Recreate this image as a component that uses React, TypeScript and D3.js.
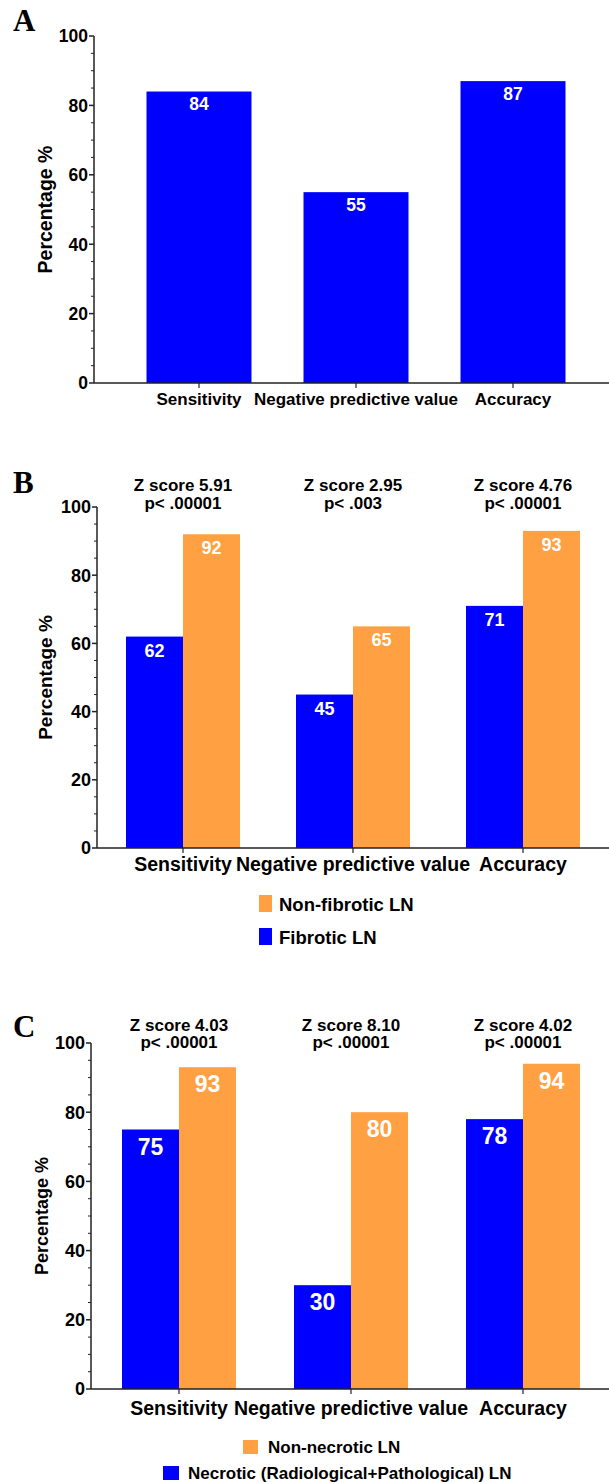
import React from 'react';
import { scaleBand, scaleLinear, range } from 'd3';

// data
const categories = ['Sensitivity', 'Negative predictive value', 'Accuracy'];
const yTicks = [0, 20, 40, 60, 80, 100];

const overallA = [84, 55, 87];

const fibroticB = [62, 45, 71];
const nonFibroticB = [92, 65, 93];
const zScoresB = ['Z score 5.91', 'Z score 2.95', 'Z score 4.76'];
const pValuesB = ['p< .00001', 'p< .003', 'p< .00001'];

const necroticC = [75, 30, 78];
const nonNecroticC = [93, 80, 94];
const zScoresC = ['Z score 4.03', 'Z score 8.10', 'Z score 4.02'];
const pValuesC = ['p< .00001', 'p< .00001', 'p< .00001'];

const BLUE = '#0000ff';
const ORANGE = '#ffa042';
const AXIS = '#222';
const SANS = '"Liberation Sans", Arial, sans-serif';
const SERIF = '"Liberation Serif", "Times New Roman", serif';

type Series = { values: number[]; color: string };

type PanelProps = {
  letter: string;
  letterY: number;
  top: number;
  bottom: number;
  axisX: number;
  bandRange: [number, number];
  barWidth: number;
  series: Series[];
  tickFont: number;
  catFont: number;
  catY: number;
  valueFont: number;
  valueDy: number;
  yLabelX: number;
  yLabelFont: number;
  notes?: { z: string[]; p: string[]; y1: number; y2: number; font: number };
};

function Panel(props: PanelProps) {
  const {
    letter, letterY, top, bottom, axisX, bandRange, barWidth, series,
    tickFont, catFont, catY, valueFont, valueDy, yLabelX, yLabelFont, notes,
  } = props;

  const y = scaleLinear().domain([0, 100]).range([bottom, top]);
  const x = scaleBand<string>().domain(categories).range(bandRange).padding(0);
  const center = (c: string) => (x(c) as number) + x.bandwidth() / 2;
  const n = series.length;
  const minor = range(0, 101, 5).filter(v => v % 20 !== 0);

  const bars = series.map((s, si) =>
    categories.map((c, i) => {
      const bx = center(c) - (n * barWidth) / 2 + si * barWidth;
      const v = s.values[i];
      return (
        <g key={`${si}-${c}`}>
          <rect x={bx} y={y(v)} width={barWidth} height={bottom - y(v)} fill={s.color} />
          <text
            x={bx + barWidth / 2}
            y={y(v) + valueDy}
            textAnchor="middle"
            fill="#fff"
            fontSize={valueFont}
            fontWeight="bold"
            fontFamily={SANS}>
            {v}
          </text>
        </g>
      );
    })
  );

  return (
    <g>
      <text x={13} y={letterY} fontFamily={SERIF} fontWeight="bold" fontSize={31}>
        {letter}
      </text>
      {bars}
      {/* y axis */}
      <line x1={axisX} x2={axisX} y1={top} y2={bottom} stroke={AXIS} strokeWidth={1.5} />
      {yTicks.map(t => (
        <g key={t}>
          <line x1={axisX - 5} x2={axisX} y1={y(t)} y2={y(t)} stroke={AXIS} strokeWidth={1.5} />
          <text
            x={axisX - 6}
            y={y(t)}
            dy="0.36em"
            textAnchor="end"
            fontSize={tickFont}
            fontWeight="bold"
            fontFamily={SANS}>
            {t}
          </text>
        </g>
      ))}
      {minor.map(t => (
        <line key={t} x1={axisX - 3} x2={axisX} y1={y(t)} y2={y(t)} stroke={AXIS} strokeWidth={1} />
      ))}
      <text
        transform={`translate(${yLabelX},${(top + bottom) / 2}) rotate(-90)`}
        textAnchor="middle"
        dy="0.36em"
        fontSize={yLabelFont}
        fontWeight="bold"
        fontFamily={SANS}>
        Percentage %
      </text>
      {/* x axis */}
      <line x1={axisX} x2={609} y1={bottom} y2={bottom} stroke={AXIS} strokeWidth={1.5} />
      {categories.map(c => (
        <g key={c}>
          <line x1={center(c)} x2={center(c)} y1={bottom} y2={bottom + 5} stroke={AXIS} strokeWidth={1.2} />
          <text
            x={center(c)}
            y={catY}
            textAnchor="middle"
            fontSize={catFont}
            fontWeight="bold"
            fontFamily={SANS}>
            {c}
          </text>
        </g>
      ))}
      {notes &&
        categories.map((c, i) => (
          <g key={`n-${c}`} fontSize={notes.font} fontWeight="bold" fontFamily={SANS} textAnchor="middle">
            <text x={center(c)} y={notes.y1}>{notes.z[i]}</text>
            <text x={center(c)} y={notes.y2}>{notes.p[i]}</text>
          </g>
        ))}
    </g>
  );
}

function Legend({ items, font }: { items: { label: string; color: string; x: number; y: number; w: number; h: number; tx: number; ty: number }[]; font: number }) {
  return (
    <g>
      {items.map(d => (
        <g key={d.label}>
          <rect x={d.x} y={d.y} width={d.w} height={d.h} fill={d.color} />
          <text x={d.tx} y={d.ty} fontSize={font} fontWeight="bold" fontFamily={SANS}>
            {d.label}
          </text>
        </g>
      ))}
    </g>
  );
}

export default function App() {
  return (
    <svg
      width={609}
      height={1482}
      style={{ position: 'absolute', left: 0, top: 0, background: '#fff' }}>
      <Panel
        letter="A"
        letterY={31}
        top={36}
        bottom={383}
        axisX={94}
        bandRange={[120.5, 591.5]}
        barWidth={105}
        series={[{ values: overallA, color: BLUE }]}
        tickFont={17.5}
        catFont={17}
        catY={405}
        valueFont={17.5}
        valueDy={18.5}
        yLabelX={45}
        yLabelFont={19.5}
      />
      <Panel
        letter="B"
        letterY={493}
        top={507}
        bottom={848}
        axisX={97}
        bandRange={[98, 608]}
        barWidth={57}
        series={[
          { values: fibroticB, color: BLUE },
          { values: nonFibroticB, color: ORANGE },
        ]}
        tickFont={18}
        catFont={19.5}
        catY={871}
        valueFont={18}
        valueDy={20}
        yLabelX={45}
        yLabelFont={19}
        notes={{ z: zScoresB, p: pValuesB, y1: 491, y2: 509, font: 17 }}
      />
      <Legend
        font={18.5}
        items={[
          { label: 'Non-fibrotic LN', color: ORANGE, x: 259, y: 895, w: 13, h: 17, tx: 279, ty: 911 },
          { label: 'Fibrotic LN', color: BLUE, x: 259, y: 928, w: 13, h: 17, tx: 279, ty: 944 },
        ]}
      />
      <Panel
        letter="C"
        letterY={1037}
        top={1043}
        bottom={1389}
        axisX={91}
        bandRange={[93, 609]}
        barWidth={57}
        series={[
          { values: necroticC, color: BLUE },
          { values: nonNecroticC, color: ORANGE },
        ]}
        tickFont={18}
        catFont={19.5}
        catY={1415}
        valueFont={23}
        valueDy={25}
        yLabelX={42}
        yLabelFont={18}
        notes={{ z: zScoresC, p: pValuesC, y1: 1031, y2: 1048, font: 17 }}
      />
      <Legend
        font={17}
        items={[
          { label: 'Non-necrotic LN', color: ORANGE, x: 243, y: 1440, w: 15, h: 14, tx: 268, ty: 1453 },
          { label: 'Necrotic (Radiological+Pathological) LN', color: BLUE, x: 163, y: 1466, w: 16, h: 14, tx: 188, ty: 1479 },
        ]}
      />
    </svg>
  );
}
